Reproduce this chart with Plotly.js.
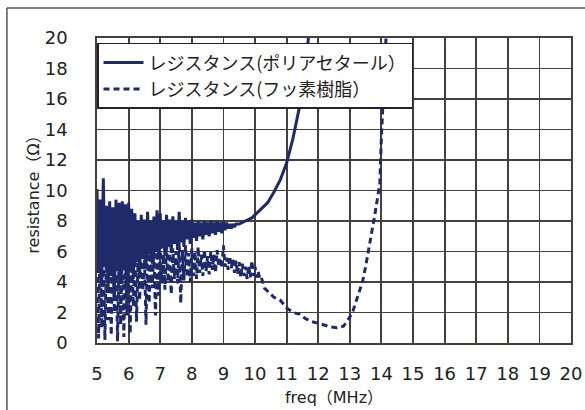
<!DOCTYPE html>
<html><head><meta charset="utf-8">
<script src="https://cdn.plot.ly/plotly-3.0.1.min.js"></script>
<style>html,body{margin:0;padding:0;background:#fff;overflow:hidden;}#chart{width:585px;height:410px;overflow:hidden;}</style>
</head><body><div id="chart"></div>
<script>
const seriesNames = ['レジスタンス(ポリアセタール）', 'レジスタンス(フッ素樹脂）'];
const xTickVals = [5,6,7,8,9,10,11,12,13,14,15,16,17,18,19,20];
const yTickVals = [0,2,4,6,8,10,12,14,16,18,20];

const freqPolyacetal = [5.00,5.05,5.10,5.15,5.20,5.25,5.30,5.35,5.40,5.45,5.50,5.55,5.60,5.65,5.70,5.75,5.80,5.85,5.90,5.95,
6.00,6.05,6.10,6.15,6.20,6.25,6.30,6.35,6.40,6.45,6.50,6.55,6.60,6.65,6.70,6.75,6.80,6.85,6.90,6.95,
7.00,7.05,7.10,7.15,7.20,7.25,7.30,7.35,7.40,7.45,7.50,7.55,7.60,7.65,7.70,7.75,7.80,7.85,7.90,7.95,
8.00,8.05,8.10,8.15,8.20,8.25,8.30,8.35,8.40,8.45,8.50,8.55,8.60,8.65,8.70,8.75,8.80,8.85,8.90,8.95,
9.00,9.05,9.10,9.15,9.20,9.25,9.30,9.35,9.40,9.50,9.60,9.70,9.80,9.90,10.0,10.2,10.4,10.6,10.8,11.0,11.2,11.4,11.5,11.6,11.7];
const resPolyacetal = [10.1,4.6,9.4,3.8,10.8,5.0,9.0,3.5,9.3,4.4,8.9,2.8,9.4,5.1,9.2,3.9,9.3,4.8,9.1,3.2,
9.2,5.0,8.8,4.2,8.5,5.4,8.0,4.6,8.4,5.6,8.1,4.9,8.6,5.8,8.0,5.2,8.3,6.0,8.7,5.5,
8.5,6.2,8.0,5.7,8.4,6.3,8.1,5.9,8.3,6.5,8.0,6.1,8.6,6.6,8.0,6.3,8.2,6.8,8.0,6.5,
8.1,6.9,7.9,6.7,8.0,7.0,7.9,6.8,8.0,7.1,7.9,7.0,8.0,7.2,7.9,7.1,8.0,7.3,7.9,7.2,
8.0,7.4,7.9,7.5,7.8,7.5,7.8,7.6,7.8,7.8,7.9,8.0,8.1,8.2,8.4,8.8,9.2,9.9,10.7,11.8,13.4,15.4,16.6,18.1,20.2];

const freqFluoro = [5.00,5.05,5.10,5.15,5.20,5.25,5.30,5.35,5.40,5.45,5.50,5.55,5.60,5.65,5.70,5.75,5.80,5.85,5.90,5.95,
6.00,6.05,6.10,6.15,6.20,6.25,6.30,6.35,6.40,6.45,6.50,6.55,6.60,6.65,6.70,6.75,6.80,6.85,6.90,6.95,
7.00,7.05,7.10,7.15,7.20,7.25,7.30,7.35,7.40,7.45,7.50,7.55,7.60,7.65,7.70,7.75,7.80,7.85,7.90,7.95,
8.00,8.05,8.10,8.15,8.20,8.25,8.30,8.35,8.40,8.45,8.50,8.55,8.60,8.65,8.70,8.75,8.80,8.85,8.90,8.95,
9.00,9.05,9.10,9.15,9.20,9.25,9.30,9.35,9.40,9.45,9.50,9.55,9.60,9.65,9.70,9.75,9.80,9.85,9.90,9.95,
10.0,10.05,10.1,10.15,10.2,10.3,10.4,10.5,10.6,10.8,11.0,11.2,11.4,11.6,11.8,12.0,12.2,12.4,12.6,12.8,12.9,
13.0,13.1,13.2,13.3,13.4,13.5,13.6,13.7,13.8,13.9,13.95,14.0,14.05,14.1,14.15];
const resFluoro = [7.6,0.3,7.8,1.0,7.5,0.2,6.2,1.5,7.4,0.5,6.5,2.0,7.2,0.1,6.0,1.2,6.8,0.4,5.8,1.8,
6.5,0.6,5.5,2.4,6.2,1.4,5.6,2.8,6.4,3.4,5.8,1.2,6.6,2.6,5.9,3.6,6.3,1.8,6.0,3.1,
6.4,3.9,5.8,3.5,6.5,4.0,5.9,3.2,6.2,4.2,6.0,3.9,6.6,2.6,6.1,4.1,6.4,4.3,5.9,4.0,
6.2,4.4,6.0,4.2,6.3,4.6,5.8,4.4,6.1,4.7,5.7,4.5,6.0,4.8,5.8,4.6,6.1,5.0,5.6,4.9,
6.4,5.0,5.6,4.8,5.7,4.9,5.5,4.6,5.4,4.5,5.3,4.3,5.2,4.4,5.0,4.2,5.1,4.3,5.4,4.4,
5.0,4.3,4.7,4.2,4.3,3.6,3.4,3.2,3.0,2.8,2.3,2.0,1.9,1.6,1.4,1.3,1.15,1.05,1.0,1.1,1.4,
1.7,2.1,2.7,3.3,4.0,5.0,6.1,7.3,8.5,9.8,10.5,13.5,15.8,17.8,20.2];

const navy = '#1f2a6b';
const traces = [
  {x: freqPolyacetal, y: resPolyacetal, name: seriesNames[0], type: 'scatter', mode: 'lines',
   line: {color: navy, width: 3}},
  {x: freqFluoro, y: resFluoro, name: seriesNames[1], type: 'scatter', mode: 'lines',
   line: {color: navy, width: 3, dash: '6px,4px'}}
];

const gridColor = '#45403c';
const tickFont = {family: '"DejaVu Sans", sans-serif', size: 18, color: '#222'};
const titleFont = {family: '"DejaVu Sans", "Noto Sans CJK JP", sans-serif', size: 16, color: '#222'};
const layout = {
  width: 585, height: 410,
  margin: {l: 97, r: 14, t: 38, b: 67},
  paper_bgcolor: '#fff', plot_bgcolor: '#fff',
  showlegend: true,
  font: {family: '"DejaVu Sans", sans-serif', color: '#222', size: 16},
  xaxis: {range: [5, 20], tickvals: xTickVals, ticktext: xTickVals.map(String),
    showgrid: true, gridcolor: gridColor, gridwidth: 1.8, zeroline: false,
    showline: true, linecolor: gridColor, linewidth: 1.8, mirror: true,
    ticks: '', ticklabelstandoff: 14, tickfont: tickFont,
    title: {text: 'freq（MHz）', font: titleFont, standoff: 8}},
  yaxis: {range: [0, 20], tickvals: yTickVals, ticktext: yTickVals.map(String),
    showgrid: true, gridcolor: gridColor, gridwidth: 1.8, zeroline: false,
    showline: true, linecolor: gridColor, linewidth: 1.8, mirror: true,
    ticks: '', ticklabelstandoff: 24, tickfont: tickFont,
    title: {text: 'resistance（Ω）', font: titleFont, standoff: 1}},
  legend: {x: 0, y: 0.984, xanchor: 'left', yanchor: 'top',
    bgcolor: '#fff', bordercolor: '#222', borderwidth: 1.5,
    font: {family: '"Noto Sans CJK JP", sans-serif', size: 18, color: '#222'},
    itemwidth: 40, tracegroupgap: 0},
  shapes: [
    {type: 'line', xref: 'paper', yref: 'paper', x0: -0.19, x1: 1.0295, y0: 1.0984, y1: 1.0984,
     line: {color: '#555', width: 1.5}, layer: 'below'},
    {type: 'line', xref: 'paper', yref: 'paper', x0: -0.19, x1: -0.19, y0: -0.22, y1: 1.0984,
     line: {color: '#555', width: 1.5}, layer: 'below'}
  ]
};
Plotly.newPlot('chart', traces, layout, {displayModeBar: false, staticPlot: true});
</script></body></html>
